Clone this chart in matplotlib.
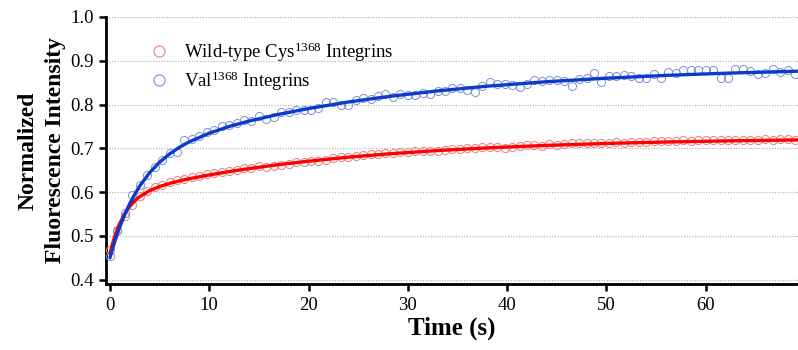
import matplotlib
matplotlib.use("Agg")
import matplotlib.pyplot as plt
from matplotlib.lines import Line2D

# ---------------- data ----------------
time_s = [0, 0.75, 1.5, 2.25, 3, 3.75, 4.5, 5.25, 6, 6.75, 7.5, 8.25, 9, 9.75,
          10.5, 11.25, 12, 12.75, 13.5, 14.25, 15, 15.75, 16.5, 17.25, 18, 18.75,
          19.5, 20.25, 21, 21.75, 22.5, 23.25, 24, 24.75, 25.5, 26.25, 27, 27.75,
          28.5, 29.25, 30, 30.75, 31.5, 32.25, 33, 33.75, 34.5, 35.25, 36, 36.75,
          37.5, 38.25, 39, 39.75, 40.5, 41.25, 42, 42.75, 43.5, 44.25, 45, 45.75,
          46.5, 47.25, 48, 48.75, 49.5, 50.25, 51, 51.75, 52.5, 53.25, 54, 54.75,
          55.5, 56.25, 57, 57.75, 58.5, 59.25, 60, 60.75, 61.5, 62.25, 63, 63.75,
          64.5, 65.25, 66, 66.75, 67.5, 68.25, 69]

wild_type = [0.468, 0.514, 0.545, 0.571, 0.592, 0.603, 0.611, 0.617, 0.624, 0.627,
             0.630, 0.635, 0.637, 0.641, 0.643, 0.645, 0.649, 0.651, 0.654, 0.656,
             0.659, 0.658, 0.660, 0.662, 0.664, 0.669, 0.668, 0.670, 0.672, 0.674,
             0.679, 0.680, 0.681, 0.683, 0.685, 0.686, 0.688, 0.689, 0.690, 0.692,
             0.692, 0.694, 0.695, 0.693, 0.694, 0.697, 0.698, 0.699, 0.701, 0.701,
             0.702, 0.703, 0.703, 0.701, 0.702, 0.705, 0.707, 0.708, 0.706, 0.709,
             0.708, 0.710, 0.711, 0.711, 0.712, 0.711, 0.713, 0.713, 0.714, 0.713,
             0.714, 0.715, 0.715, 0.716, 0.716, 0.717, 0.716, 0.718, 0.717, 0.718,
             0.718, 0.719, 0.718, 0.719, 0.720, 0.720, 0.719, 0.720, 0.721, 0.720,
             0.721, 0.721, 0.720]

val_mutant = [0.453, 0.510, 0.553, 0.593, 0.616, 0.639, 0.658, 0.674, 0.689, 0.692,
              0.719, 0.721, 0.728, 0.738, 0.741, 0.750, 0.754, 0.757, 0.765, 0.763,
              0.773, 0.767, 0.771, 0.783, 0.784, 0.787, 0.787, 0.787, 0.792, 0.805,
              0.806, 0.799, 0.799, 0.810, 0.814, 0.812, 0.819, 0.823, 0.818, 0.823,
              0.821, 0.822, 0.826, 0.824, 0.832, 0.831, 0.838, 0.837, 0.834, 0.828,
              0.843, 0.852, 0.847, 0.848, 0.844, 0.840, 0.848, 0.855, 0.854, 0.857,
              0.856, 0.854, 0.842, 0.859, 0.860, 0.871, 0.851, 0.866, 0.865, 0.868,
              0.865, 0.861, 0.861, 0.869, 0.860, 0.875, 0.872, 0.878, 0.878, 0.880,
              0.879, 0.879, 0.861, 0.861, 0.881, 0.882, 0.877, 0.870, 0.871, 0.882,
              0.874, 0.879, 0.870]

fit_time = [0, 0.25, 0.5, 0.75, 1, 1.5, 2, 2.5, 3, 4, 5, 6, 7, 8, 10, 12, 14, 17,
            20, 24, 28, 33, 38, 44, 50, 56, 62, 69.3]
wild_type_fit = [0.460, 0.4815, 0.4999, 0.5157, 0.5293, 0.5511, 0.5674, 0.5799,
                 0.5896, 0.6034, 0.6128, 0.6198, 0.6256, 0.6306, 0.6391, 0.6468,
                 0.6536, 0.6627, 0.6706, 0.6797, 0.6872, 0.6949, 0.7010, 0.7067,
                 0.7111, 0.7144, 0.7169, 0.7192]
val_fit = [0.450, 0.4698, 0.4882, 0.5052, 0.5210, 0.5494, 0.5740, 0.5953, 0.6140,
           0.6445, 0.6683, 0.6871, 0.7024, 0.7150, 0.7346, 0.7499, 0.7622, 0.7777,
           0.7909, 0.8058, 0.8182, 0.8312, 0.8419, 0.8522, 0.8602, 0.8666, 0.8716,
           0.8762]

x_ticks = [0, 10, 20, 30, 40, 50, 60]
y_ticks = [0.4, 0.5, 0.6, 0.7, 0.8, 0.9, 1.0]
labels = ["Wild-type Cys$^{1368}$ Integrins", "Val$^{1368}$ Integrins"]

# ---------------- style ----------------
plt.rcParams["font.family"] = ["Liberation Serif", "DejaVu Serif"]
plt.rcParams["mathtext.fontset"] = "custom"
plt.rcParams["mathtext.rm"] = "Liberation Serif"
plt.rcParams["mathtext.it"] = "Liberation Serif:italic"
plt.rcParams["mathtext.bf"] = "Liberation Serif:bold"

red_pt = "#f07a7a"
blue_pt = "#7d8ed8"
red_line = "#ff0000"
blue_line = "#0a3bcc"

fig = plt.figure(figsize=(7.98, 3.5), dpi=100)
ax = fig.add_axes([106 / 798, 1 - 284 / 350, 1 - 106 / 798, (284 - 17) / 350])

ax.plot(time_s, wild_type, linestyle="none", marker="o", markersize=5.8,
        markerfacecolor="none", markeredgecolor=red_pt, markeredgewidth=0.7,
        zorder=3)
ax.plot(time_s, val_mutant, linestyle="none", marker="o", markersize=5.8,
        markerfacecolor="none", markeredgecolor=blue_pt, markeredgewidth=0.7,
        zorder=3)
ax.plot(fit_time, wild_type_fit, color=red_line, linewidth=2.4, zorder=4,
        solid_capstyle="round")
ax.plot(fit_time, val_fit, color=blue_line, linewidth=2.4, zorder=4,
        solid_capstyle="round")

ax.set_xlim(-0.4, 69.3)
ax.set_ylim(0.39, 1.0)
ax.set_xticks(x_ticks)
ax.set_yticks(y_ticks)
ax.set_yticklabels([f"{v:.1f}" for v in y_ticks])

for v in y_ticks:
    ax.axhline(v, color="#b8b8b8", linewidth=0.9, linestyle=(0, (1, 1.2)),
               zorder=1)

for s in ["top", "right"]:
    ax.spines[s].set_visible(False)
for s in ["left", "bottom"]:
    ax.spines[s].set_linewidth(2.0)
    ax.spines[s].set_color("black")

ax.tick_params(axis="both", direction="out", length=5, width=1.8,
               labelsize=13.5, colors="black", pad=4)

ax.set_xlabel("Time (s)", fontsize=18, fontweight="bold", labelpad=2)
ax.set_ylabel("Normalized\nFluorescence Intensity", fontsize=17,
              fontweight="bold", linespacing=1.4, labelpad=3)

handles = [
    Line2D([], [], linestyle="none", marker="o", markersize=8,
           markerfacecolor="none", markeredgecolor=red_pt, markeredgewidth=0.8),
    Line2D([], [], linestyle="none", marker="o", markersize=8,
           markerfacecolor="none", markeredgecolor=blue_pt, markeredgewidth=0.8),
]
ax.legend(handles, labels, loc="upper left", bbox_to_anchor=(0.05, 0.94),
          frameon=False, fontsize=13.5, handletextpad=0.7, labelspacing=0.3,
          borderaxespad=0, handlelength=1.2)

fig.savefig("out.png", dpi=100)
